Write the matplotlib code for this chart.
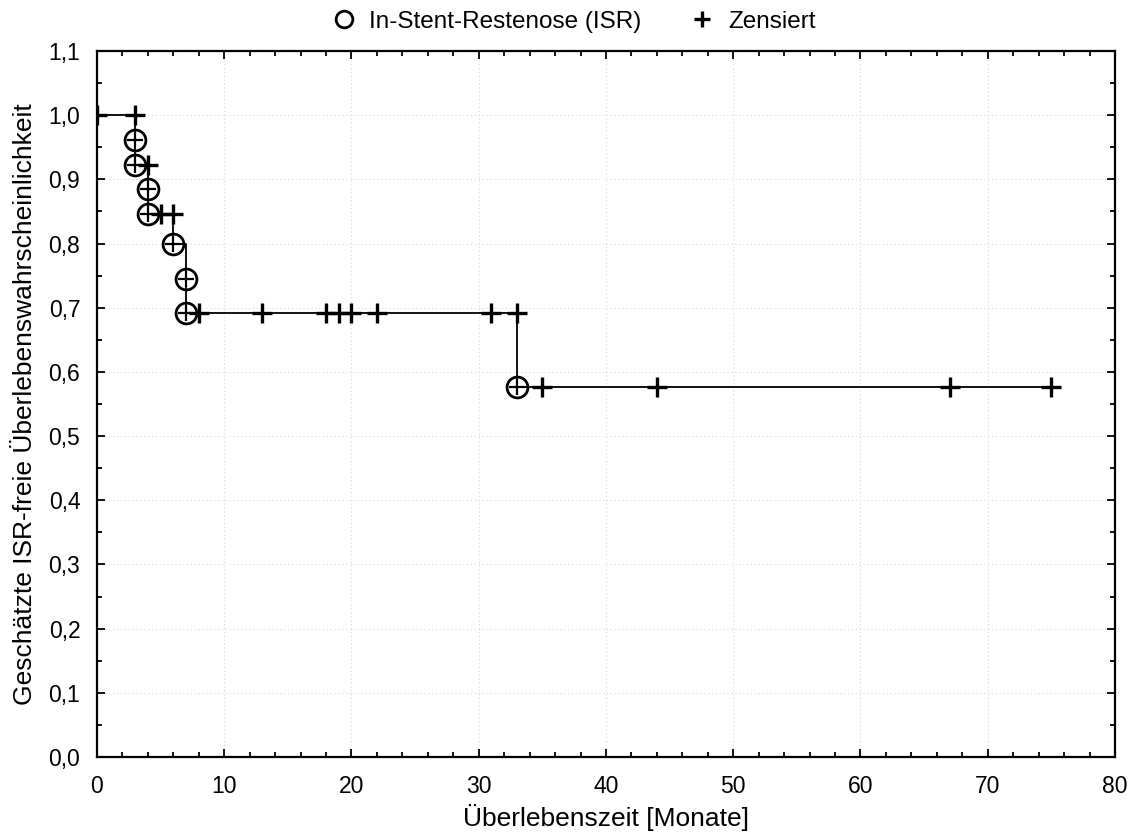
import numpy as np
import matplotlib.pyplot as plt
from matplotlib.ticker import MultipleLocator, FuncFormatter

plt.rcParams['font.family'] = ['Liberation Sans', 'DejaVu Sans']

# Kaplan-Meier Stufen: Zeitpunkte der Ereignisse und geschätzte Überlebenswahrscheinlichkeit
event_t = [3, 3, 4, 4, 6, 7, 7, 33]
event_s = [0.962, 0.923, 0.885, 0.846, 0.800, 0.745, 0.692, 0.577]

# Zensierte Fälle (Zeit, Wert der Kurve)
cens_t = [0, 3, 4, 5, 6, 8, 13, 18, 19, 20, 22, 31, 33, 35, 44, 67, 75]
cens_s = [1.0, 1.0, 0.923, 0.846, 0.846, 0.692, 0.692, 0.692, 0.692, 0.692,
          0.692, 0.692, 0.692, 0.577, 0.577, 0.577, 0.577]

t_end = 75

fig = plt.figure(figsize=(11.29, 8.38), dpi=100)
ax = fig.add_axes([0.0859, 0.0967, 0.9017, 0.8424])

# Stufenkurve
xs = [0] + event_t + [t_end]
ys = [1.0] + event_s + [event_s[-1]]
ax.plot(xs, ys, drawstyle='steps-post', color='black', lw=1.3, zorder=3)

# Zensiert: Kreuze
ax.plot(cens_t, cens_s, linestyle='none', marker='+', ms=14, mew=2.4,
        color='black', zorder=4, label='Zensiert')

# Ereignisse: Kreis mit Kreuz
ax.plot(event_t, event_s, linestyle='none', marker='o', ms=15, mew=2.0,
        mfc='none', mec='black', zorder=5, label='In-Stent-Restenose (ISR)')
ax.plot(event_t, event_s, linestyle='none', marker='+', ms=11, mew=1.6,
        color='black', zorder=5)

ax.set_xlim(0, 80)
ax.set_ylim(0, 1.1)
ax.xaxis.set_major_locator(MultipleLocator(10))
ax.xaxis.set_minor_locator(MultipleLocator(2))
ax.yaxis.set_major_locator(MultipleLocator(0.1))
ax.yaxis.set_minor_locator(MultipleLocator(0.05))
ax.yaxis.set_major_formatter(FuncFormatter(lambda v, p: f"{v:.1f}".replace('.', ',')))

ax.tick_params(which='both', direction='in', top=True, right=True,
               labelsize=16.5, width=1.3)
ax.tick_params(which='major', length=6)
ax.tick_params(axis='x', which='major', pad=13)
ax.tick_params(axis='y', which='major', pad=12)
ax.tick_params(which='minor', length=3.5)
for sp in ax.spines.values():
    sp.set_linewidth(1.6)

ax.grid(True, which='major', linestyle=(0, (1, 2.5)), color='#d8d8d8', lw=0.8)
ax.set_axisbelow(True)

ax.set_xlabel('Überlebenszeit [Monate]', fontsize=19, labelpad=4)
ax.set_ylabel('Geschätzte ISR-freie Überlebenswahrscheinlichkeit', fontsize=19, labelpad=8)

# Legende oben, über der Grafik
handles, labels = ax.get_legend_handles_labels()
leg = fig.legend(handles[::-1], labels[::-1], loc='center',
                 bbox_to_anchor=(0.508, 1 - 22 / 838), ncol=2, frameon=False,
                 fontsize=17.5, handletextpad=0.55, columnspacing=2.0,
                 markerscale=0.8, handlelength=1.0, borderpad=0.2)

fig.savefig('out.png', dpi=100)
